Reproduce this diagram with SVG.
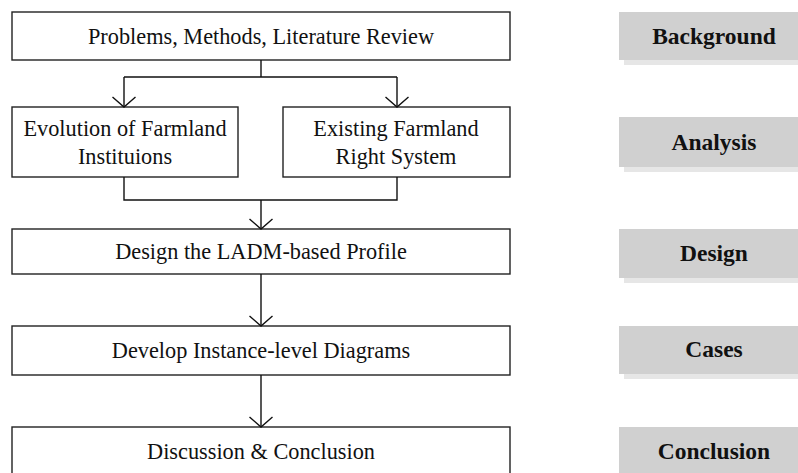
<svg xmlns="http://www.w3.org/2000/svg" width="798" height="473" viewBox="0 0 798 473">
  <style>
    .box { fill: #ffffff; stroke: #222222; stroke-width: 1.4; }
    .txt { font-family: "Liberation Serif", "Times New Roman", serif; font-size: 22.3px; fill: #111111; text-anchor: middle; }
    .tag { fill: #d0d0d0; }
    .shadow { fill: #e6e6e6; }
    .tagtxt { font-family: "Liberation Serif", "Times New Roman", serif; font-size: 23.5px; font-weight: bold; fill: #111111; text-anchor: middle; }
    .wire { fill: none; stroke: #111111; stroke-width: 1.4; }
  </style>
  <defs>
    <marker id="vee" viewBox="-12 -13 13 26" markerWidth="13" markerHeight="26" refX="0" refY="0" markerUnits="userSpaceOnUse" orient="auto">
      <path d="M -10 -11.5 L 0 0 L -10 11.5" fill="none" stroke="#111111" stroke-width="1.4"/>
    </marker>
  </defs>

  <rect width="798" height="473" fill="#ffffff"/>

  <!-- Stage boxes -->
  <g id="problems">
    <rect class="box" x="12" y="12" width="498" height="48"/>
    <text class="txt" x="261" y="44">Problems, Methods, Literature Review</text>
  </g>
  <g id="evolution">
    <rect class="box" x="12" y="107" width="226" height="70"/>
    <text class="txt" x="125" y="136">Evolution of Farmland</text>
    <text class="txt" x="125" y="164">Instituions</text>
  </g>
  <g id="existing">
    <rect class="box" x="283" y="107" width="227" height="70"/>
    <text class="txt" x="396" y="136">Existing Farmland</text>
    <text class="txt" x="396" y="164">Right System</text>
  </g>
  <g id="design">
    <rect class="box" x="12" y="229" width="498" height="45"/>
    <text class="txt" x="261" y="259">Design the LADM-based Profile</text>
  </g>
  <g id="develop">
    <rect class="box" x="12" y="326" width="498" height="49"/>
    <text class="txt" x="261" y="358">Develop Instance-level Diagrams</text>
  </g>
  <g id="discussion">
    <rect class="box" x="12" y="427" width="498" height="52"/>
    <text class="txt" x="261" y="459">Discussion &amp; Conclusion</text>
  </g>

  <!-- Phase tags -->
  <g id="tag-background">
    <rect class="shadow" x="624" y="17" width="180" height="48"/>
    <rect class="tag" x="619" y="12" width="185" height="48"/>
    <text class="tagtxt" x="714" y="44">Background</text>
  </g>
  <g id="tag-analysis">
    <rect class="shadow" x="624" y="122" width="180" height="50"/>
    <rect class="tag" x="619" y="117" width="185" height="50"/>
    <text class="tagtxt" x="714" y="150">Analysis</text>
  </g>
  <g id="tag-design">
    <rect class="shadow" x="624" y="234" width="180" height="49"/>
    <rect class="tag" x="619" y="229" width="185" height="49"/>
    <text class="tagtxt" x="714" y="261">Design</text>
  </g>
  <g id="tag-cases">
    <rect class="shadow" x="624" y="331" width="180" height="48"/>
    <rect class="tag" x="619" y="326" width="185" height="48"/>
    <text class="tagtxt" x="714" y="357">Cases</text>
  </g>
  <g id="tag-conclusion">
    <rect class="tag" x="619" y="427" width="185" height="52"/>
    <text class="tagtxt" x="714" y="459">Conclusion</text>
  </g>

  <!-- Connectors -->
  <g id="connectors">
    <path class="wire" d="M 261 60 V 77 M 124 77 H 397"/>
    <path class="wire" d="M 124 77 V 107" marker-end="url(#vee)"/>
    <path class="wire" d="M 397 77 V 107" marker-end="url(#vee)"/>
    <path class="wire" d="M 124 177 V 200 H 397 V 177"/>
    <path class="wire" d="M 261 200 V 229" marker-end="url(#vee)"/>
    <path class="wire" d="M 261 274 V 326" marker-end="url(#vee)"/>
    <path class="wire" d="M 261 375 V 427" marker-end="url(#vee)"/>
  </g>
</svg>
